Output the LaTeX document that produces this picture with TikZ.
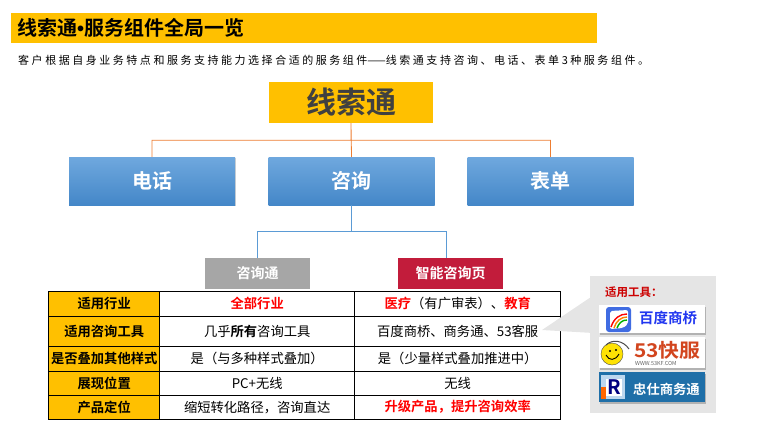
\documentclass[tikz,border=0pt]{standalone}
\usepackage{fontspec}
\setmainfont{Noto Sans CJK SC}[BoldFont={Noto Sans CJK SC Bold}]
\newfontfamily\spacedfont{Noto Sans CJK SC}[LetterSpace=23]
\newfontfamily\dotfont{Liberation Sans}[Scale=1.0]
\usepackage{tikz}
\usetikzlibrary{matrix, positioning, shadows}
\definecolor{barYellow}{HTML}{FFC000}
\definecolor{topGray}{HTML}{404040}
\definecolor{boxGray}{HTML}{A6A6A6}
\definecolor{boxRed}{HTML}{C21C3B}
\definecolor{panelGray}{HTML}{E5E5E5}
\definecolor{lineOrange}{HTML}{ED7D31}
\definecolor{lineBlue}{HTML}{5B9BD5}
\definecolor{groupTop}{HTML}{6FA8DE}
\definecolor{groupBottom}{HTML}{4487C8}
\definecolor{logoBlue}{HTML}{1F6FA8}
\definecolor{logoRed}{HTML}{D2451E}
\newcommand{\fs}[1]{\fontsize{#1}{#1}\selectfont}
\tikzset{
    group/.style={minimum width=166pt, minimum height=48pt, inner sep=0pt, text=white,
        font=\fs{20}\bfseries, top color=groupTop, bottom color=groupBottom,
        drop shadow={shadow xshift=0.5pt, shadow yshift=-1pt, opacity=0.35}},
    product/.style={minimum width=105pt, minimum height=31pt, inner sep=0pt, text=white, font=\fs{14}\bfseries},
    logobox/.style={minimum width=106pt, inner sep=0pt, drop shadow={shadow xshift=1pt, shadow yshift=-1.5pt, opacity=0.5}},
    redtxt/.style={text=red, font=\fs{13.3}\bfseries},
}
\begin{document}
\begin{tikzpicture}[x=1pt, y=-1pt]
    \useasboundingbox (0,0) rectangle (776,437);
    \node[fill=barYellow, minimum width=586pt, minimum height=30pt, inner sep=0pt] (titlebar) at (304,28) {};
    \node[anchor=west, inner sep=0pt, font=\fs{20}\bfseries] (title) at (17,28) {线索通{\dotfont •}服务组件全局一览};
    \node[anchor=west, inner sep=0pt, font=\fs{11}] (intro) at (18,60) {\spacedfont 客户根据自身业务特点和服务支持能力选择合适的服务组件{\normalfont ——}线索通支持咨询、电话、表单3种服务组件。};

    \node[fill=barYellow, text=topGray, minimum width=164pt, minimum height=41pt, inner sep=0pt, font=\fs{30}\bfseries] (clue) at (351,102.5) {线索通};
    \node[group] (phone) at (152,181) {电话};
    \node[group] (consult) at (351.5,181) {咨询};
    \node[group] (form) at (550.5,181) {表单};
    \node[product, fill=boxGray] (tong) at (257.5,273.5) {咨询通};
    \node[product, fill=boxRed] (smart) at (450.5,273.5) {智能咨询页};

    \path[draw=lineOrange, line width=0.8pt]
        (clue.south) -- (consult.north)
        (clue.south) -- ++(0,17) -| (phone.north)
        (clue.south) -- ++(0,17) -| (form.north);
    \path[draw=lineBlue, line width=0.8pt]
        (consult.south) -- ++(0,26) -| (tong.north)
        (consult.south) -- ++(0,26) -| ([xshift=-4pt]smart.north);

    \matrix (m) [matrix of nodes, anchor=north west, inner sep=0pt, row sep=-1pt, column sep=-1pt,
        nodes={draw=black, line width=1pt, inner sep=0pt, anchor=center, font=\fs{13.3}},
        column 1/.style={nodes={minimum width=111pt, fill=barYellow, font=\fs{13.3}\bfseries}},
        column 2/.style={nodes={minimum width=195pt}},
        column 3/.style={nodes={minimum width=206pt}},
        row 1/.style={nodes={minimum height=25pt}},
        row 2/.style={nodes={minimum height=30pt}},
        row 3/.style={nodes={minimum height=25pt}},
        row 4/.style={nodes={minimum height=24pt}},
        row 5/.style={nodes={minimum height=24pt}}]
        at (48,290.5)
    {
        适用行业 & |[redtxt]| 全部行业 & {\textcolor{red}{\textbf{医疗}}（有广审表）、\textcolor{red}{\textbf{教育}}} \\
        适用咨询工具 & {几乎\textbf{所有}咨询工具} & 百度商桥、商务通、53客服 \\
        是否叠加其他样式 & 是（与多种样式叠加） & 是（少量样式叠加推进中） \\
        展现位置 & PC+无线 & 无线 \\
        产品定位 & 缩短转化路径，咨询直达 & |[redtxt]| 升级产品，提升咨询效率 \\
    };

    \node[fill=panelGray, minimum width=126pt, minimum height=137pt, inner sep=0pt] (panel) at (653,344.5) {};
    \coordinate (tip) at (542,330);
    \fill[panelGray] (tip) -- ([yshift=-22pt]panel.north west) -- ([yshift=-57pt]panel.north west) -- cycle;
    \node[anchor=west, inner sep=0pt, text=red!80!black, font=\fs{11.5}\bfseries] (tools) at (605,292.5) {适用工具：};

    \node[logobox, fill=white, minimum height=28pt] (baidu) at (652,319) {};
    \node[fill=lineBlue!70!blue, rounded corners=3pt, minimum size=25pt, inner sep=0pt] (baiduicon) at (618.5,319.5) {};
    \fill[white, rounded corners=2pt] (610,311) -- (628,310) -- (628,324) -- (623,328) -- (610,329) -- cycle;
    \draw[red, line width=1.4pt] (611,327) .. controls (614,318) and (620,314) .. (627,314);
    \draw[orange, line width=1.4pt] (614,328) .. controls (616,321) and (621,317) .. (627,317);
    \draw[green!70!black, line width=1.4pt] (617,328) .. controls (619,323) and (622,320) .. (627,320);
    \node[text=blue!65!lineBlue, inner sep=0pt, font=\fs{14.5}\bfseries] (baidutxt) at (668,318) {百度商桥};

    \node[logobox, fill=white, minimum height=31pt] (kf) at (652,352.5) {};
    \node[circle, fill=yellow!85!orange, draw=black!70, minimum size=22pt, inner sep=0pt] (smile) at (612,354) {};
    \fill[black] (610,351) circle (1.2) (616,350) circle (1.2);
    \draw[black, line width=0.9pt] (606,355) .. controls (609,361) and (615,361) .. (619,354);
    \draw[black!70, line width=1pt] (606,345) .. controls (612,339) and (623,340) .. (629,349);
    \node[text=logoRed, anchor=west, inner sep=0pt, font=\fs{19}\bfseries] (kftxt) at (634,350) {\scalebox{1.1}[1]{53快服}};
    \node[text=black!60, anchor=west, inner sep=0pt, font=\fs{5.5}] (kfurl) at (635,363) {WWW.53KF.COM};

    \node[logobox, fill=logoBlue, minimum height=30pt] (zs) at (652,387) {};
    \node[fill=lineBlue!40!white, minimum size=24pt, inner sep=0pt] (zsicon) at (613,387) {};
    \fill[white] (606,379) rectangle (622,396);
    \fill[orange!80!red] (601,387) rectangle (606,399);
    \node[text=blue!50!black, inner sep=0pt, font=\fs{20}\bfseries] (zsR) at (614,387.5) {R};
    \node[text=white, anchor=west, inner sep=0pt, font=\fs{13.3}\bfseries] (zstxt) at (633,389) {忠仕商务通};
\end{tikzpicture}
\end{document}
